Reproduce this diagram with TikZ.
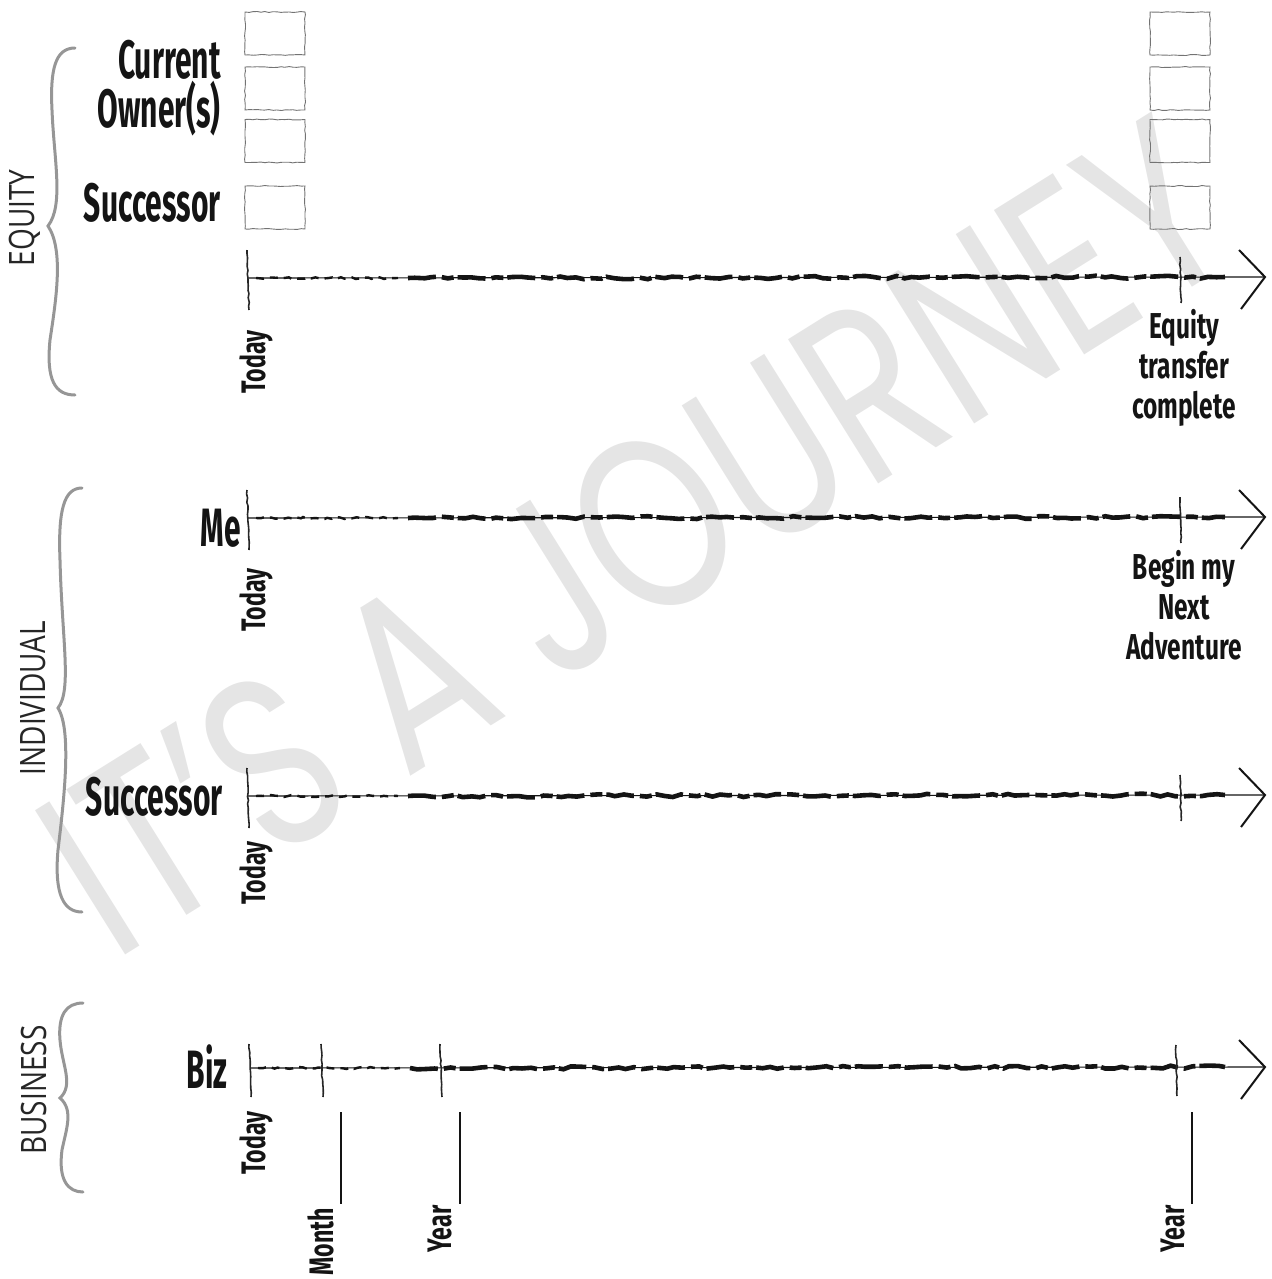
\documentclass[tikz,border=0pt]{standalone}
\usepackage{fontspec}
\setmainfont{Fira Sans}
\newfontfamily\bigfont{Fira Sans}[FakeStretch=0.555]
\newfontfamily\smallfont{Fira Sans}[FakeStretch=0.68]
\newfontfamily\groupfont{Open Sans}[FakeStretch=0.8]
\newfontfamily\wmfont{Poppins}[FakeStretch=0.76]
\usetikzlibrary{positioning,decorations.pathmorphing}
\definecolor{jrgris}{RGB}{150,150,150}
\definecolor{jrpale}{RGB}{229,229,229}
\definecolor{jrink}{RGB}{20,20,20}
\tikzset{
  rowlabel/.style={
    font=\bigfont\bfseries\fontsize{27}{17.5}\selectfont,
    anchor=east, align=right, inner sep=0pt, text=jrink
  },
  whenlabel/.style={
    font=\smallfont\bfseries\fontsize{17}{20}\selectfont,
    rotate=90, inner sep=0pt, text=jrink
  },
  milestone/.style={
    font=\smallfont\bfseries\fontsize{18}{20}\selectfont,
    align=center, inner sep=0pt, text=jrink
  },
  grouplabel/.style={
    font=\groupfont\fontsize{17.5}{20}\selectfont,
    rotate=90, inner sep=0pt, text=black!85
  },
  groupbrace/.style={draw=jrgris, line width=1.5pt, line cap=round},
  tickbox/.style={
    rectangle, draw=black!55, line width=0.45pt,
    decorate, decoration={random steps, segment length=2pt, amplitude=0.25pt},
    minimum width=30pt, minimum height=21.5pt, inner sep=0pt
  },
  axisthin/.style={draw=jrink, line width=0.55pt},
  axiswisp/.style={
    draw=jrink, line width=1.2pt, dash pattern=on 4pt off 3pt,
    decorate, decoration={random steps, segment length=2pt, amplitude=0.5pt}
  },
  axisbrush/.style={
    draw=jrink, line width=2.3pt, dash pattern=on 14pt off 3pt on 6pt off 2pt,
    decorate, decoration={random steps, segment length=4pt, amplitude=0.75pt}
  },
  tickmark/.style={
    draw=black!85, line width=0.8pt,
    decorate, decoration={random steps, segment length=2pt, amplitude=0.3pt}
  },
  arrowbarb/.style={draw=jrink, line width=1pt, line join=miter},
  blankline/.style={draw=jrink, line width=0.8pt},
  watermark/.style={
    font=\wmfont\fontsize{122}{122}\selectfont,
    text=jrpale, rotate=32, inner sep=0pt
  }
}

\begin{document}
\begin{tikzpicture}[x=0.5pt, y=-0.5pt]
  \pgfmathsetseed{7}
  \useasboundingbox (0,0) rectangle (1272,1279);

  % Watermark
  \node[watermark] (wm) at (634,536) {IT’S A JOURNEY};

  % Group braces and their labels
  \draw[groupbrace] (75,48) .. controls (55,48) and (50,70) .. (52,110)
    .. controls (54,160) and (64,205) .. (48,226)
    .. controls (64,250) and (56,300) .. (50,340)
    .. controls (46,380) and (55,395) .. (75,395);
  \node[grouplabel] (gEquity) at (25,218) {EQUITY};

  \draw[groupbrace] (82,488) .. controls (64,488) and (58,510) .. (60,560)
    .. controls (62,640) and (72,690) .. (58,708)
    .. controls (72,730) and (64,800) .. (58,850)
    .. controls (54,895) and (64,912) .. (82,912);
  \node[grouplabel] (gIndiv) at (33,698) {INDIVIDUAL};

  \draw[groupbrace] (83,1003) .. controls (66,1003) and (58,1015) .. (60,1040)
    .. controls (62,1065) and (74,1085) .. (60,1098)
    .. controls (74,1110) and (66,1130) .. (62,1150)
    .. controls (58,1180) and (68,1192) .. (83,1192);
  \node[grouplabel] (gBiz) at (34,1090) {BUSINESS};

  % Equity: owners and successor boxes
  \node[rowlabel] (lblOwners) at (221,88) {Current\\Owner(s)};
  \node[rowlabel] (lblEqSucc) at (221,203) {Successor};
  \foreach \r/\y in {1/33.5, 2/88.5, 3/141, 4/207.5} {
    \node[tickbox] (boxL\r) at (275,\y) {};
    \node[tickbox] (boxR\r) at (1180,\y) {};
  }

  % Timelines
  \coordinate (eqA) at (248,278);    \coordinate (eqB) at (1265,277);
  \coordinate (meA) at (248,518);    \coordinate (meB) at (1265,517);
  \coordinate (suA) at (248,796);    \coordinate (suB) at (1265,795);
  \coordinate (bzA) at (250,1068);   \coordinate (bzB) at (1265,1067);
  \foreach \t in {eq,me,su,bz} {
    \draw[axisthin] (\t A) -- (\t B);
    \draw[axiswisp] ([shift={(8,0)}]\t A) -- ([shift={(150,0)}]\t A);
    \draw[axisbrush] ([shift={(160,0)}]\t A) -- ([shift={(-40,0)}]\t B);
    \draw[arrowbarb] ([shift={(-26,-27)}]\t B) -- (\t B) -- ([shift={(-24,32)}]\t B);
  }
  \foreach \t in {eq,me,su} {
    \draw[tickmark] ([shift={(-1,-28)}]\t A) -- ([shift={(1,32)}]\t A);
    \draw[tickmark] ([shift={(-85,-20)}]\t B) -- ([shift={(-84,26)}]\t B);
  }
  \foreach \x in {0,72,191} {
    \draw[tickmark] ([shift={(\x-1,-24)}]bzA) -- ([shift={(\x+1,29)}]bzA);
  }
  \draw[tickmark] ([shift={(-89,-22)}]bzB) -- ([shift={(-88,29)}]bzB);

  % Row labels
  \node[rowlabel] (lblMe) at (241,528) {Me};
  \node[rowlabel] (lblSucc) at (223,797) {Successor};
  \node[rowlabel] (lblBiz) at (228,1067) {Biz};

  % Today labels
  \foreach \t/\y in {eq/362, me/600, su/873, bz/1143}
    \node[whenlabel] (today\t) at (256,\y) {Today};

  % Milestones
  \node[milestone] (msEquity) at (1184,368) {Equity\\transfer\\complete};
  \node[milestone] (msNext) at (1184,605) {Begin my\\Next\\Adventure};

  % Business blanks
  \node[whenlabel] (whenMonth) at (321,1242) {Month};
  \node[whenlabel] (whenYear) at (440,1229) {Year};
  \node[whenlabel] (whenYears) at (1173,1229) {Year};
  \coordinate (bMonthT) at (341,1112); \coordinate (bMonthB) at (341,1204);
  \coordinate (bYearT) at (460,1112);  \coordinate (bYearB) at (460,1204);
  \coordinate (bYearsT) at (1192,1112); \coordinate (bYearsB) at (1192,1204);
  \draw[blankline] (bMonthT) -- (bMonthB);
  \draw[blankline] (bYearT) -- (bYearB);
  \draw[blankline] (bYearsT) -- (bYearsB);
\end{tikzpicture}
\end{document}
